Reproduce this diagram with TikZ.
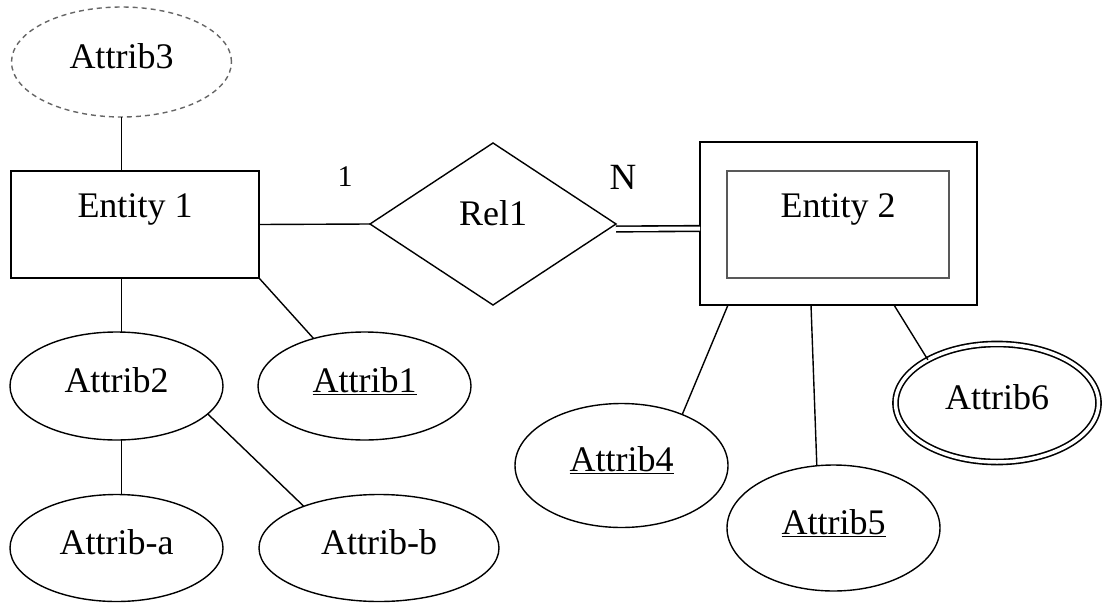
\documentclass[tikz,border=0pt]{standalone}
\usepackage{fontspec}
\setmainfont{Liberation Serif}
\usetikzlibrary{shapes.geometric,calc}
\begin{document}
\begin{tikzpicture}[x=1pt,y=-1pt,
  every node/.style={font=\fontsize{36}{42}\selectfont, inner sep=0pt, outer sep=0pt},
  ln/.style={line width=1.4pt, black},
  attr/.style={ellipse, draw, line width=1.4pt, text height=24pt, text depth=12pt},
  ent/.style={rectangle, draw, line width=1.4pt, text height=24pt, text depth=39pt},
  rel/.style={diamond, draw, line width=1.4pt, text height=24pt, text depth=22pt}]
\useasboundingbox (0,0) rectangle (1105,602);
% nodes
\node[attr, draw=black!60, dash pattern=on 5pt off 4pt, minimum width=220, minimum height=110] (a3) at (121.5,62) {Attrib3};
\node[ent, minimum width=248, minimum height=107] (e1) at (135,224.5) {Entity 1};
\node[rel, minimum width=246, minimum height=162] (r1) at (493,224) {Rel1};
\node[ent, minimum width=277, minimum height=163] (e2o) at (838.5,223.5) {};
\node[ent, draw=black!65, minimum width=222, minimum height=107] (e2) at (838,224.5) {Entity 2};
\node[attr, minimum width=213, minimum height=108] (a2) at (116.5,386) {Attrib2};
\node[attr, minimum width=213, minimum height=108] (a1) at (364.5,386) {\underline{Attrib1}};
\node[attr, minimum width=213, minimum height=107] (aa) at (116.5,548) {Attrib-a};
\node[attr, minimum width=240, minimum height=107] (ab) at (379,548) {Attrib-b};
\node[attr, minimum width=213, minimum height=124] (a4) at (621.5,465.5) {\underline{Attrib4}};
\node[attr, minimum width=213, minimum height=126] (a5) at (833.5,528) {\underline{Attrib5}};
\node[attr, double, double distance=3.5pt, line width=1.6pt, minimum width=203, minimum height=118] (a6) at (997,403) {Attrib6};
\node (one) at (345,177) {\fontsize{30}{36}\selectfont 1};
\node (nn) at (623,177) {\fontsize{37}{44}\selectfont N};
% connectors
\draw[ln] (a3.south) -- (a3.south |- e1.north);
\draw[ln] (e1.south -| a3.south) -- (a2.north -| a3.south);
\draw[ln] (a2.south -| a3.south) -- (aa.north -| a3.south);
\draw[ln] (e1.south east) -- (a1.137);
\draw[ln] (a2.-17) -- (ab.151);
\draw[ln] (e1.east) -- (r1.west);
\draw[line width=1.6pt, double, double distance=4pt] ([yshift=-5pt]r1.east) -- ([yshift=-5pt]e2o.west);
\draw[ln] ([xshift=28pt]e2o.south west) -- (a4.40.5);
\draw[ln] ([xshift=111pt]e2o.south west) -- (a5.105.5);
\draw[ln] ([xshift=194pt]e2o.south west) -- (a6.148);
\end{tikzpicture}
\end{document}
